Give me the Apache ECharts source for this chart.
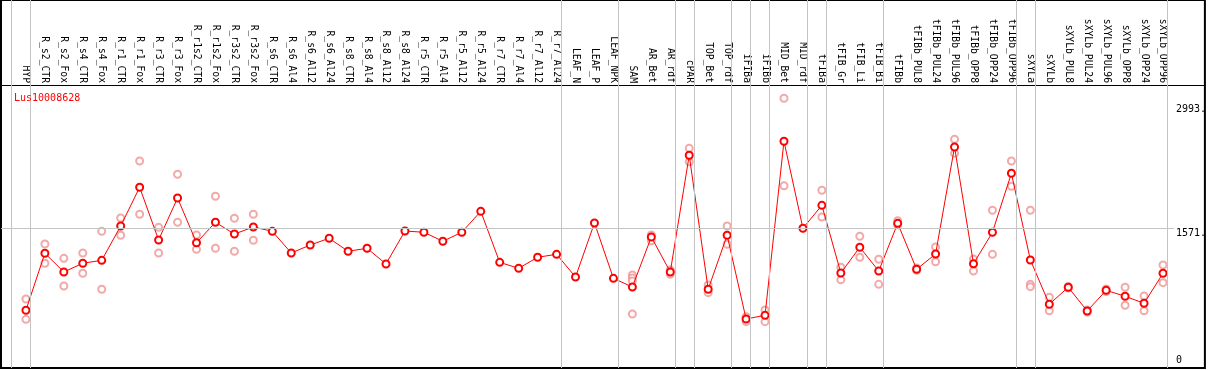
<!DOCTYPE html>
<html>
<head>
<meta charset="utf-8">
<script src="https://cdn.jsdelivr.net/npm/echarts@6/dist/echarts.min.js"></script>
<style>
html,body{margin:0;padding:0;background:#fff;}
#chart{width:1209px;height:370px;}
</style>
</head>
<body>
<div id="chart"></div>
<script>
const geneName = 'Lus10008628';

const categories = ['HYP','R_s2_CTR','R_s2_Fox','R_s4_CTR','R_s4_Fox','R_r1_CTR','R_r1_Fox','R_r3_CTR','R_r3_Fox',
  'R_r1s2_CTR','R_r1s2_Fox','R_r3s2_CTR','R_r3s2_Fox','R_s6_CTR','R_s6_Al4','R_s6_Al12','R_s6_Al24',
  'R_s8_CTR','R_s8_Al4','R_s8_Al12','R_s8_Al24','R_r5_CTR','R_r5_Al4','R_r5_Al12','R_r5_Al24',
  'R_r7_CTR','R_r7_Al4','R_r7_Al12','R_r7_Al24','LEAF_N','LEAF_P','LEAF_NPK','SAM','AR_Bet','AR_rdf',
  'cPAR','TOP_Bet','TOP_rdf','iFIBa','iFIBb','MID_Bet','MID_rdf','tFIBa','tFIB_Gr','tFIB_Li','tFIB_Bi',
  'tFIBb','tFIBb_PUL8','tFIBb_PUL24','tFIBb_PUL96','tFIBb_OPP8','tFIBb_OPP24','tFIBb_OPP96',
  'sXYLa','sXYLb','sXYLb_PUL8','sXYLb_PUL24','sXYLb_PUL96','sXYLb_OPP8','sXYLb_OPP24','sXYLb_OPP96'];

const means = [629,1284,1069,1169,1203,1597,2042,1437,1919,1405,1640,1505,1586,1536,1287,1379,1456,
  1307,1341,1161,1540,1525,1422,1525,1766,1180,1111,1238,1272,1011,1632,996,896,1471,1069,
  2410,870,1491,529,571,2571,1571,1835,1057,1353,1080,
  1628,1100,1276,2505,1164,1525,2203,
  1207,698,893,621,858,790,709,1054];

const replicates = [[758,525],[1391,1169],[1226,908],[1287,1054],[1536,870],[1689,1491],[2344,1732],[1582,1287],[2192,1640],
  [1494,1330],[1939,1341],[1686,1307],[1732,1433],[],[],[],[],
  [],[],[],[],[],[],[],[],
  [],[],[],[],[],[],[],[1034,1000,965,586],[1494,1428],[1092,1042],
  [2490,2336],[919,831],[1597,1387],[555,498],[632,498],[3065,2060],[],[2008,1701],[1123,980],[1479,1238],[1215,927],
  [1658,1609],[1115,1088],[1356,1187],[2594,2433],[1218,1080],[1778,1272],[2344,2054],
  [1778,927,900],[778,624],[902,885],[632,609],[873,845],[893,686],[793,624],[1149,946]];

// index of the last category of each group (-1 = before the first)
const groupEnds = [-1,0,28,31,34,35,37,38,39,41,42,45,52,53,60];

const yTickValues = [0,1571,2993];
const yTickLabels = ['0','1571.','2993.'];
const refLineValue = 1571;

const FONT = 'DejaVu Sans Mono';
const chart = echarts.init(document.getElementById('chart'));

const lineData = means.map((v,i)=>[i,v]);
const repData = [];
replicates.forEach((arr,i)=>arr.forEach(v=>repData.push([i,v])));

const option = {
  animation:false,
  backgroundColor:'#fff',
  title:{
    text:geneName, left:9, top:88,
    textStyle:{color:'#ff0000', fontFamily:FONT, fontSize:10, fontWeight:'normal'}
  },
  grid:{left:1, right:1, top:0, bottom:2, show:true, borderColor:'#000', borderWidth:2, backgroundColor:'transparent'},
  xAxis:{
    type:'value', position:'top', offset:-85,
    min:(1-26)/19, max:(1208-26)/19,
    splitLine:{show:false},
    axisTick:{show:false},
    axisLine:{show:true, onZero:false, lineStyle:{color:'#000', width:1}},
    axisLabel:{
      customValues: categories.map((c,i)=>i),
      rotate:90, margin:2, color:'#000', fontFamily:FONT, fontSize:9.7,
      formatter:(v)=>categories[Math.round(v)] || ''
    }
  },
  yAxis:[{
    type:'value', position:'right', offset:-31,
    min:-34.5, max:4194.4,
    splitLine:{show:false}, axisTick:{show:false}, axisLine:{show:false},
    axisLabel:{
      customValues: yTickValues.slice(1),
      verticalAlign:'top', align:'left', margin:2, color:'#000', fontFamily:FONT, fontSize:10,
      formatter:(v)=>yTickLabels[yTickValues.indexOf(v)]
    }
  },{
    type:'value', position:'right', offset:-31,
    min:-34.5, max:4194.4,
    splitLine:{show:false}, axisTick:{show:false}, axisLine:{show:false},
    axisLabel:{
      customValues: yTickValues.slice(0,1),
      verticalAlign:'bottom', align:'left', margin:2, color:'#000', fontFamily:FONT, fontSize:10,
      formatter:(v)=>yTickLabels[yTickValues.indexOf(v)]
    }
  }],
  series:[{
    type:'scatter', data:repData, symbol:'emptyCircle', symbolSize:7,
    itemStyle:{color:'#ef9494', borderWidth:1.1},
    z:2, silent:true,
    markLine:{
      silent:true, symbol:['none','none'], label:{show:false},
      lineStyle:{color:'#c4c4c4', width:1, type:'solid'},
      data:groupEnds.map(g=>({xAxis:g+0.24})).concat([
        [{coord:[(1-26)/19, refLineValue]},{coord:[60.58, refLineValue]}]
      ])
    }
  },{
    type:'line', data:lineData, symbol:'emptyCircle', symbolSize:7,
    lineStyle:{color:'#ff0000', width:1},
    itemStyle:{color:'#ff0000', borderWidth:1.4},
    z:3, silent:true
  }]
};
chart.setOption(option);
</script>
</body>
</html>
